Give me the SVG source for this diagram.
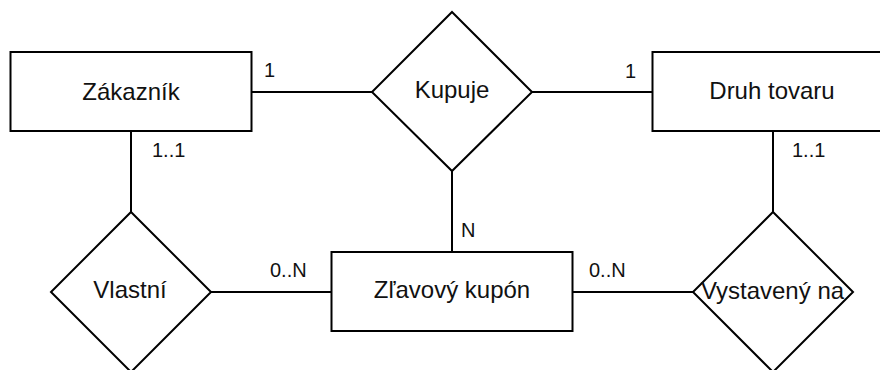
<svg xmlns="http://www.w3.org/2000/svg" width="880" height="370" viewBox="0 0 880 370">
  <style>
    .shape { fill: #ffffff; stroke: #000000; stroke-width: 2; }
    .link { fill: none; stroke: #000000; stroke-width: 2; }
    .name { font-family: "Liberation Sans", Arial, sans-serif; font-size: 24px; fill: #111111; text-anchor: middle; }
    .card { font-family: "Liberation Sans", Arial, sans-serif; font-size: 20px; fill: #111111; }
  </style>
  <rect width="880" height="370" fill="#ffffff"/>

  <!-- relationship lines -->
  <g id="connectors">
    <path class="link" d="M252 92 H372"/>
    <path class="link" d="M532 92 H652"/>
    <path class="link" d="M452 171 V252"/>
    <path class="link" d="M131 131 V212"/>
    <path class="link" d="M211 292 H331"/>
    <path class="link" d="M572 292 H693"/>
    <path class="link" d="M773 131 V212"/>
  </g>

  <!-- cardinality labels -->
  <g id="cardinalities">
    <text class="card" x="264" y="77">1</text>
    <text class="card" x="625" y="78">1</text>
    <text class="card" x="152" y="157">1..1</text>
    <text class="card" x="792" y="157">1..1</text>
    <text class="card" x="461" y="237">N</text>
    <text class="card" x="270" y="277">0..N</text>
    <text class="card" x="589" y="277">0..N</text>
  </g>

  <g id="zakaznik">
    <rect class="shape" x="10.5" y="52" width="241" height="79"/>
    <text class="name" x="131" y="100">Zákazník</text>
  </g>

  <g id="kupuje">
    <polygon class="shape" points="452,12 532,92 452,171 372,92"/>
    <text class="name" x="452" y="98">Kupuje</text>
  </g>

  <g id="druh-tovaru">
    <rect class="shape" x="652.5" y="52" width="241" height="79"/>
    <text class="name" x="772" y="99">Druh tovaru</text>
  </g>

  <g id="vlastni">
    <polygon class="shape" points="131,212 211,292 131,372 51,292"/>
    <text class="name" x="130" y="298">Vlastní</text>
  </g>

  <g id="zlavovy-kupon">
    <rect class="shape" x="331.5" y="252" width="241" height="79"/>
    <text class="name" x="452" y="298">Zľavový kupón</text>
  </g>

  <g id="vystaveny-na">
    <polygon class="shape" points="773,212 853,292 773,372 693,292"/>
    <text class="name" x="772.5" y="299">Vystavený na</text>
  </g>
</svg>
